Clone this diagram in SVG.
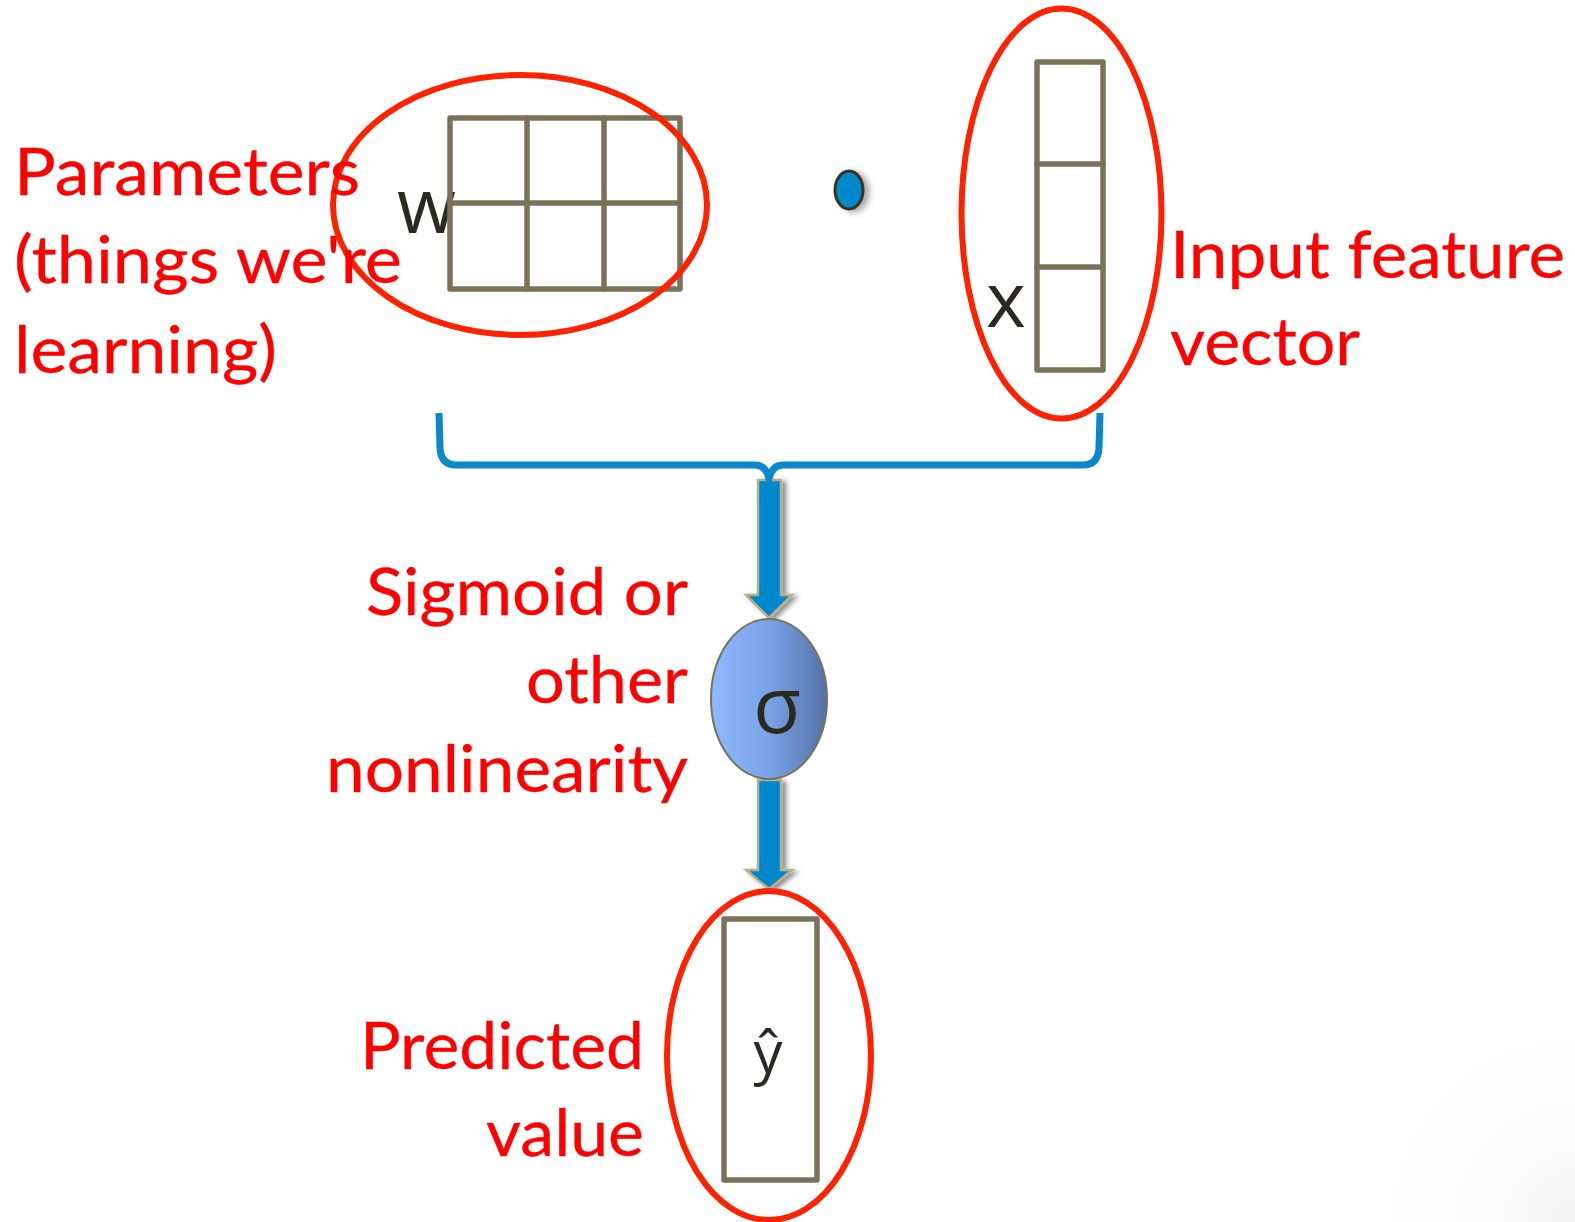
<svg xmlns="http://www.w3.org/2000/svg" width="1575" height="1222" viewBox="0 0 1575 1222">
  <defs>
    <style>
      .grid { fill: none; stroke: #7a7159; stroke-width: 5.5; stroke-linejoin: round; stroke-linecap: round; }
      .ring { fill: none; stroke: #ff2200; stroke-width: 6; }
      .label { font-family: Lato, "Open Sans", "Liberation Sans", sans-serif; font-size: 65px; fill: #ff0000; stroke: #ff0000; stroke-width: 0.3; }
      .sym { font-family: "Open Sans", "DejaVu Sans", sans-serif; fill: #2b2a22; }
      .arrow { fill: #0088cc; stroke: #b7af8b; stroke-width: 2.5; stroke-linejoin: miter; }
      .brace { fill: none; stroke: #0a88cc; stroke-width: 7; stroke-linecap: butt; stroke-linejoin: round; }
    </style>
    <linearGradient id="sigFill" x1="0" y1="0" x2="1" y2="0">
      <stop offset="0" stop-color="#8fbaff"/>
      <stop offset="0.5" stop-color="#7aa2e6"/>
      <stop offset="1" stop-color="#5472a8"/>
    </linearGradient>
    <radialGradient id="corner" cx="1575" cy="1222" r="240" gradientUnits="userSpaceOnUse">
      <stop offset="0" stop-color="#f3f3f3"/>
      <stop offset="1" stop-color="#ffffff" stop-opacity="0"/>
    </radialGradient>
    <filter id="shadow" x="-40%" y="-20%" width="180%" height="140%">
      <feDropShadow dx="4" dy="2" stdDeviation="2.5" flood-color="#000" flood-opacity="0.45"/>
    </filter>
    <filter id="dotShadow" x="-80%" y="-80%" width="260%" height="260%">
      <feDropShadow dx="5" dy="2" stdDeviation="3" flood-color="#000" flood-opacity="0.35"/>
    </filter>
  </defs>

  <rect width="1575" height="1222" fill="#ffffff"/>
  <rect x="1300" y="950" width="275" height="272" fill="url(#corner)"/>

  <!-- weight matrix w -->
  <g id="node-w">
    <text class="sym" x="397" y="233" font-size="76" font-weight="500">w</text>
    <rect class="grid" x="450" y="118" width="230" height="171"/>
    <line class="grid" x1="450" y1="203" x2="680" y2="203"/>
    <line class="grid" x1="527" y1="118" x2="527" y2="289"/>
    <line class="grid" x1="604" y1="118" x2="604" y2="289"/>
    <ellipse class="ring" cx="520" cy="205" rx="187" ry="130"/>
  </g>

  <!-- dot product operator -->
  <g id="node-dot">
    <ellipse cx="849" cy="190" rx="14" ry="19" fill="#0088cc" stroke="#3a3320" stroke-width="3" filter="url(#dotShadow)"/>
  </g>

  <!-- input vector x -->
  <g id="node-x">
    <text class="sym" x="986" y="327" font-size="76" font-weight="500">x</text>
    <rect class="grid" x="1037" y="62" width="66" height="308"/>
    <line class="grid" x1="1037" y1="164" x2="1103" y2="164"/>
    <line class="grid" x1="1037" y1="267" x2="1103" y2="267"/>
    <ellipse class="ring" cx="1061.5" cy="213.5" rx="100" ry="205"/>
  </g>

  <!-- connectors: brace joining w and x, then flow arrows -->
  <g id="connectors">
    <polygon class="arrow" filter="url(#shadow)" points="758,480 781,480 781,595 792,595 769,618 746,595 758,595"/>
    <path class="brace" d="M439,413 L440,448 Q441,465 456,465 L755,465 Q766,465 769,479 Q772,465 783,465 L1083,465 Q1098,465 1099,448 L1100,413"/>
    <polygon class="arrow" filter="url(#shadow)" points="758,780 781,780 781,870 792,870 769,889 746,870 758,870"/>
  </g>

  <!-- nonlinearity -->
  <g id="node-sigma">
    <ellipse cx="769" cy="699" rx="58" ry="80" fill="url(#sigFill)" stroke="#7a7159" stroke-width="2"/>
    <text class="sym" x="777" y="733" font-size="78" font-weight="500" text-anchor="middle">σ</text>
  </g>

  <!-- prediction y-hat -->
  <g id="node-yhat">
    <rect class="grid" x="724" y="919" width="93" height="261"/>
    <text class="sym" x="768" y="1073" font-size="58" font-weight="500" text-anchor="middle">ŷ</text>
    <ellipse class="ring" cx="769" cy="1055.5" rx="102" ry="164.5"/>
  </g>

  <!-- annotations -->
  <g id="labels">
    <text class="label" x="14" y="195" textLength="346" lengthAdjust="spacingAndGlyphs">Parameters</text>
    <text class="label" x="14" y="283" textLength="388" lengthAdjust="spacingAndGlyphs">(things we're</text>
    <text class="label" x="14" y="373" textLength="263" lengthAdjust="spacingAndGlyphs">learning)</text>

    <text class="label" x="1170" y="278" textLength="395" lengthAdjust="spacingAndGlyphs">Input feature</text>
    <text class="label" x="1170" y="365" textLength="190" lengthAdjust="spacingAndGlyphs">vector</text>

    <text class="label" x="688" y="615" text-anchor="end" textLength="322" lengthAdjust="spacingAndGlyphs">Sigmoid or</text>
    <text class="label" x="688" y="703" text-anchor="end" textLength="162" lengthAdjust="spacingAndGlyphs">other</text>
    <text class="label" x="688" y="792" text-anchor="end" textLength="362" lengthAdjust="spacingAndGlyphs">nonlinearity</text>

    <text class="label" x="644" y="1069" text-anchor="end" textLength="284" lengthAdjust="spacingAndGlyphs">Predicted</text>
    <text class="label" x="644" y="1156" text-anchor="end" textLength="158" lengthAdjust="spacingAndGlyphs">value</text>
  </g>
</svg>
